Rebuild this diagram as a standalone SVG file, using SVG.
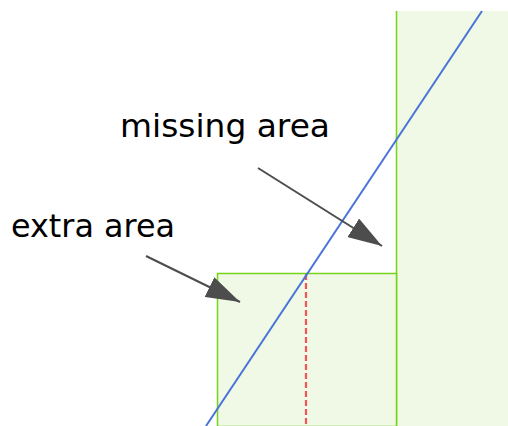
<svg xmlns="http://www.w3.org/2000/svg" width="508" height="426" viewBox="0 0 508 426">
<defs>
<style>
.area{fill:#f0f8e6;stroke:#74d417;stroke-width:1.5}
.lbl{font-family:"DejaVu Sans",sans-serif;font-size:32px;fill:#000}
.arr{stroke:#4d4d4d;stroke-width:2;fill:none;marker-end:url(#ah)}
</style>
<marker id="ah" viewBox="0 0 34 22" refX="34" refY="11" markerWidth="34" markerHeight="22" markerUnits="userSpaceOnUse" orient="auto">
<path d="M0,0 L34,11 L0,22 Z" fill="#4d4d4d"/>
</marker>
</defs>
<rect width="508" height="426" fill="#fff"/>
<g id="right-area"><path d="M396.5,11 V426 H508 V11 Z" fill="#f0f8e6"/><line x1="396.5" y1="11" x2="396.5" y2="426" stroke="#74d417" stroke-width="1.5"/></g>
<g id="left-area"><rect class="area" x="217.5" y="273.5" width="179" height="153"/></g>
<g id="red-dash"><line x1="306" y1="274" x2="306" y2="426" stroke="#f25555" stroke-width="2.2" stroke-dasharray="6,3"/></g>
<g id="blue-line"><line x1="206" y1="426" x2="482" y2="11" stroke="#4a73da" stroke-width="2"/></g>
<g id="label-missing"><text class="lbl" x="120" y="137" textLength="210" lengthAdjust="spacingAndGlyphs">missing area</text></g>
<g id="label-extra"><text class="lbl" x="11" y="237" textLength="164" lengthAdjust="spacingAndGlyphs">extra area</text></g>
<g id="connectors">
<line class="arr" x1="258" y1="168" x2="382" y2="246"/>
<line class="arr" x1="146" y1="256" x2="240" y2="302"/>
</g>
</svg>
